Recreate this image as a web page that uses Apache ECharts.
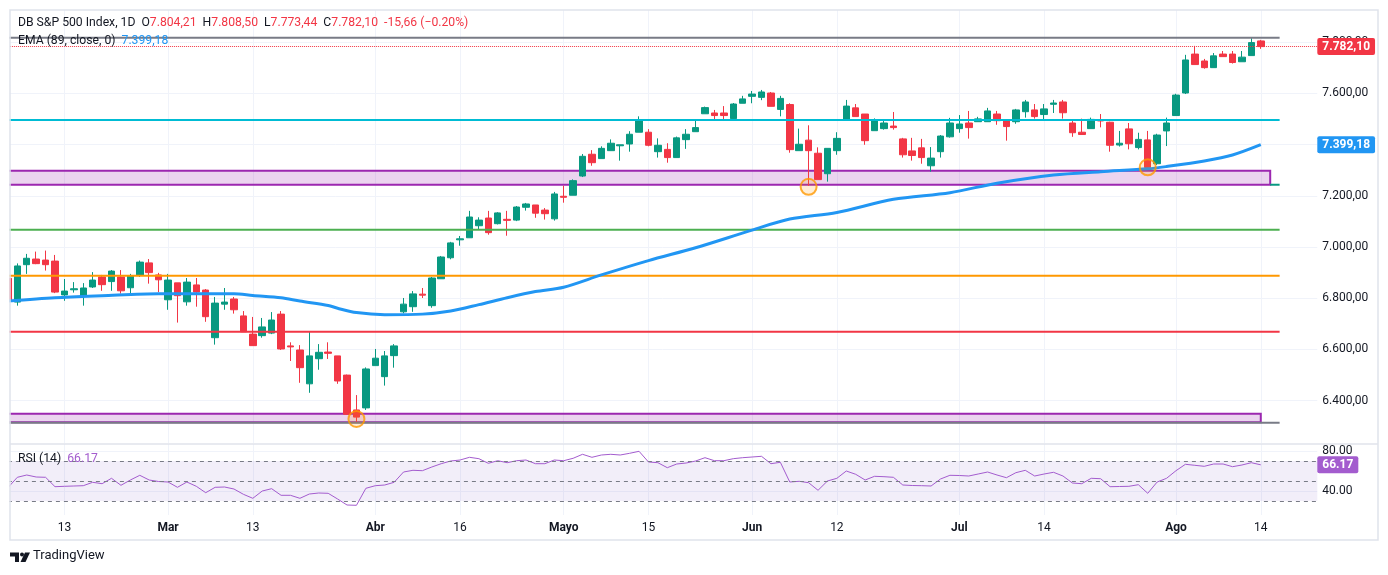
<!DOCTYPE html>
<html>
<head>
<meta charset="utf-8">
<script src="https://cdn.jsdelivr.net/npm/echarts@6/dist/echarts.min.js"></script>
<style>
html, body { margin: 0; padding: 0; background: #fff; }
#chart { width: 1388px; height: 575px; }
</style>
</head>
<body>
<div id="chart"></div>
<script>
// daily bars, oldest first (bar 0 is cut by the left edge)
var opens = [6878,6785,6931,6953,6949,6945,6813,6833,6809,6844,6883,6865,6883,6841,6891,6938,6891,6794,6860,6786,
  6852,6832,6646,6777,6797,6731,6660,6654,6664,6738,6614,6598,6466,6564,6590,6575,6500,6364,6372,6537,
  6494,6576,6747,6767,6816,6771,6876,6958,7028,7036,7083,7113,7091,7108,7105,7155,7164,7144,7110,7198,
  7202,7277,7362,7345,7376,7395,7402,7448,7448,7372,7381,7349,7419,7450,7520,7523,7523,7501,7561,7588,
  7584,7601,7537,7556,7376,7417,7366,7286,7376,7497,7543,7519,7454,7462,7472,7422,7375,7387,7317,7372,
  7430,7462,7484,7489,7489,7519,7492,7489,7528,7535,7517,7557,7566,7484,7448,7462,7495,7487,7398,7461,
  7388,7418,7325,7453,7513,7601,7753,7726,7700,7753,7753,7723,7747,7804.21];
var highs = [6885,6936,6973,6982,6986,6969,6875,6863,6859,6902,6891,6910,6910,6895,6947,6953,6899,6895,6860,6879,
  6879,6836,6805,6840,6805,6750,6727,6723,6746,6750,6628,6617,6669,6621,6628,6575,6502,6422,6530,6602,
  6594,6621,6801,6828,6840,6883,6965,7020,7043,7141,7116,7141,7136,7141,7160,7172,7164,7152,7215,7239,
  7264,7363,7378,7393,7420,7399,7452,7510,7460,7424,7405,7431,7460,7498,7548,7535,7550,7562,7590,7609,
  7613,7605,7590,7561,7462,7475,7389,7385,7448,7574,7558,7519,7502,7495,7527,7426,7426,7422,7390,7437,
  7504,7515,7531,7508,7543,7531,7492,7539,7574,7558,7558,7574,7574,7492,7501,7505,7519,7489,7453,7484,
  7446,7453,7442,7505,7598,7750,7785,7734,7757,7765,7765,7765,7815,7808.50];
var lows = [6780,6771,6895,6933,6908,6820,6790,6822,6771,6840,6829,6829,6818,6813,6883,6857,6824,6755,6705,6771,
  6767,6708,6619,6755,6740,6669,6615,6646,6660,6598,6555,6470,6431,6521,6563,6466,6345,6314,6364,6537,
  6459,6529,6741,6747,6801,6763,6876,6952,7005,7036,7069,7048,7088,7044,7101,7142,7114,7107,7103,7173,
  7202,7273,7317,7345,7376,7337,7372,7448,7393,7349,7329,7349,7383,7450,7520,7496,7496,7497,7561,7561,
  7573,7549,7510,7368,7376,7239,7263,7255,7360,7493,7509,7399,7454,7458,7458,7349,7337,7325,7294,7349,
  7427,7446,7423,7489,7489,7477,7415,7481,7505,7501,7497,7523,7501,7430,7439,7462,7467,7372,7392,7381,
  7381,7305,7320,7394,7513,7597,7712,7696,7700,7743,7716,7723,7747,7773.44];
var closes = [6789,6926,6956,6935,6931,6824,6828,6837,6840,6871,6853,6906,6829,6887,6941,6900,6872,6871,6810,6863,
  6824,6728,6781,6785,6755,6669,6615,6688,6715,6602,6610,6529,6575,6589,6585,6477,6347,6336,6524,6566,
  6575,6614,6777,6817,6812,6879,6961,7016,7032,7117,7105,7056,7133,7104,7156,7168,7132,7130,7207,7194,
  7259,7354,7329,7385,7405,7399,7440,7495,7397,7397,7349,7426,7440,7466,7544,7513,7513,7558,7578,7597,
  7605,7549,7580,7380,7401,7376,7263,7385,7424,7550,7509,7415,7492,7484,7466,7360,7357,7349,7347,7433,
  7484,7480,7466,7500,7531,7493,7470,7535,7566,7509,7539,7562,7524,7446,7439,7498,7492,7397,7405,7403,
  7420,7310,7437,7484,7593,7730,7712,7700,7746,7743,7720,7741,7797.76,7782.10];

// EMA(89): [bar, value]
var emaPoints = [[0,6789],[5,6802],[10,6810],[16,6818],[24,6818],[26,6811],[29,6802],[31,6789],[34,6772],
  [35,6761],[37,6744],[40,6736],[44,6738],[47,6750],[50,6775],[53,6802],[56,6826],[59,6843],[63,6891],
  [68,6947],[73,6997],[79,7066],[83,7109],[88,7135],[94,7186],[100,7212],[105,7249],[111,7281],[116,7294],
  [121,7305],[123,7314],[127,7336],[130,7359],[133,7399.18]];

// RSI(14), one value per bar
var rsiValues = [43.3,53.7,56,54,53.7,44.3,44.7,45,45.3,48.7,47.3,52.7,45.7,51,55.7,51,49.5,49,43.7,49,
  44.7,38.3,43.7,44,42,36.7,32.7,40,42.3,35.7,35.7,32.7,37,38,37.7,32,26,25.7,42.7,45.3,
  46,48.7,59,60.7,60.3,64,67.3,70,71,73.7,72.3,67.7,70.3,68.3,70.3,71,67.3,67.3,71,70.3,
  72.7,76.7,73.7,76,76.7,76,77.7,79.7,69,68.3,63.3,67,68,70,73.3,70.3,70.3,72.3,73.3,74,
  74.7,67.3,68.7,49,49.7,48.3,40.7,50,52.7,60,56.7,51,54.7,54.3,53.7,46,45.5,45.3,45,52,
  55.7,55.5,55,57,59,56,53.3,58.3,60.7,55,57,58.7,55,48,47.3,52.7,52.3,44.3,44.5,44.7,
  46.3,37.7,49,52.7,60.3,66.7,65.7,64.7,67,67,64.3,66,68.3,66.17];

var timeLabels = {6: '13', 17: 'Mar', 26: '13', 39: 'Abr', 48: '16', 59: 'Mayo', 68: '15',
  79: 'Jun', 88: '12', 101: 'Jul', 110: '14', 124: 'Ago', 133: '14'};
var monthNames = ['Mar', 'Abr', 'Mayo', 'Jun', 'Jul', 'Ago'];
var priceTicks = [6400, 6600, 6800, 7000, 7200, 7400, 7600, 7800];
var rsiTicks = [40, 80];

// drawn horizontal levels [value, first bar] and zones
var levelValues = [[7817, 0], [7496, 0], [7243, 134], [7067.5, 0], [6888, 0], [6669.4, 0], [6314, 0]];
var upperZone = [7297.8, 7243];
var lowerZone = [6349.3, 6315.8];
var touchPoints = [[37, 6328.7], [85, 7235], [121, 7311]];
var lastClose = 7782.10;
var lastEma = 7399.18;
var lastRsi = 66.17;

var barCount = 140;
var cats = [];
for (var i = 0; i < barCount; i++) cats.push(String(i));

var candleData = opens.map(function (o, i) {
    return [o, closes[i], lows[i], highs[i]];
});

function fmt(v) {
    var s = v.toFixed(2).split('.');
    return s[0].replace(/\B(?=(\d{3})+(?!\d))/g, '.') + ',' + s[1];
}

function tag(text, color) {
    return {
        show: true, position: 'end', distance: 0,
        formatter: function () { return text; },
        backgroundColor: color, color: '#ffffff', padding: [3, 5, 2, 5],
        borderRadius: 2, fontSize: 12, fontWeight: 'bold'
    };
}

var levelColors = ['#787b86', '#00bcd4', '#089981', '#4caf50', '#ff9800', '#f23645', '#787b86'];
var levelSeries = levelValues.map(function (lv, k) {
    return {
        type: 'line',
        xAxisIndex: 0, yAxisIndex: 0,
        data: [[lv[1], lv[0]], [135, lv[0]]],
        symbol: 'none',
        silent: true,
        z: 3,
        lineStyle: {color: levelColors[k], width: 2}
    };
});

var showTime = function (idx) { return timeLabels[idx] !== undefined; };
var hidden = 'rgba(0,0,0,0)';

var myChart = echarts.init(document.getElementById('chart'));

var option = {
    animation: false,
    backgroundColor: '#ffffff',
    textStyle: {fontFamily: 'Roboto'},
    grid: [
        {left: 7.9, right: 70.7, top: 10, height: 433},
        {left: 7.9, right: 70.7, top: 444, height: 71}
    ],
    xAxis: [
        {
            type: 'category', gridIndex: 0, data: cats, boundaryGap: false,
            axisLine: {show: false}, axisTick: {show: false}, axisLabel: {show: false},
            splitLine: {show: true, interval: showTime, lineStyle: {color: '#f0f3fa'}}
        },
        {
            type: 'category', gridIndex: 1, data: cats, boundaryGap: false,
            axisLine: {show: false}, axisTick: {show: false},
            axisLabel: {
                interval: showTime, margin: 7, color: '#131722', fontSize: 12,
                formatter: function (val, idx) {
                    var t = timeLabels[idx];
                    if (t === undefined) return '';
                    return monthNames.indexOf(t) >= 0 ? '{m|' + t + '}' : t;
                },
                rich: {m: {fontWeight: 'bold', fontSize: 12, color: '#131722'}}
            },
            splitLine: {show: true, interval: showTime, lineStyle: {color: '#f0f3fa'}}
        }
    ],
    yAxis: [
        {
            type: 'value', gridIndex: 0, position: 'right', min: 6235, max: 7925, scale: true,
            axisLine: {show: false},
            axisTick: {show: false, customValues: priceTicks},
            axisLabel: {customValues: priceTicks, formatter: fmt, color: '#131722', fontSize: 12, margin: 5},
            splitLine: {show: true, lineStyle: {color: '#f0f3fa'}}
        },
        {
            type: 'value', gridIndex: 1, position: 'right', min: 16, max: 87,
            axisLine: {show: false},
            axisTick: {show: false, customValues: rsiTicks},
            axisLabel: {customValues: rsiTicks, formatter: function (v) { return v.toFixed(2); },
                color: '#131722', fontSize: 12, margin: 5},
            splitLine: {show: true, lineStyle: {color: '#f0f3fa'}}
        }
    ],
    series: [
        {
            name: 'zones',
            type: 'line', xAxisIndex: 0, yAxisIndex: 0, data: [], z: 1,
            markArea: {
                silent: true,
                itemStyle: {color: 'rgba(156,39,176,0.2)', borderColor: '#9c27b0', borderWidth: 2},
                data: [
                    [{coord: [0, upperZone[0]]}, {coord: [134, upperZone[1]]}],
                    [{coord: [0, lowerZone[0]]}, {coord: [133, lowerZone[1]]}]
                ]
            }
        },
        {
            name: 'DB S&P 500 Index',
            type: 'candlestick', xAxisIndex: 0, yAxisIndex: 0,
            data: candleData,
            barWidth: 7,
            z: 2,
            itemStyle: {
                color: '#089981', color0: '#f23645',
                borderColor: '#089981', borderColor0: '#f23645', borderWidth: 1
            },
            markLine: {
                silent: true, symbol: ['none', 'none'],
                data: [{yAxis: lastClose}],
                lineStyle: {color: '#f23645', type: 'dotted', width: 1},
                label: tag(fmt(lastClose), '#f23645')
            }
        }
    ].concat(levelSeries).concat([
        {
            name: 'EMA',
            type: 'line', xAxisIndex: 0, yAxisIndex: 0,
            data: emaPoints, smooth: 0.3, symbol: 'none', z: 4,
            lineStyle: {color: '#2196f3', width: 3},
            markLine: {
                silent: true, symbol: ['none', 'none'],
                data: [{yAxis: lastEma}],
                lineStyle: {color: hidden, width: 0},
                label: tag(fmt(lastEma), '#2196f3')
            }
        },
        {
            name: 'touches',
            type: 'scatter', xAxisIndex: 0, yAxisIndex: 0,
            data: touchPoints, symbol: 'circle', symbolSize: 16, z: 5, silent: true,
            itemStyle: {color: 'rgba(255,152,0,0.2)', borderColor: '#ff9800', borderWidth: 2}
        },
        {
            name: 'RSI',
            type: 'line', xAxisIndex: 1, yAxisIndex: 1,
            data: rsiValues, symbol: 'none', z: 3,
            lineStyle: {color: '#a35cce', width: 1},
            markArea: {
                silent: true,
                itemStyle: {color: 'rgba(126,87,194,0.1)'},
                data: [[{yAxis: 70}, {yAxis: 30}]]
            },
            markLine: {
                silent: true, symbol: ['none', 'none'],
                lineStyle: {color: '#787b86', type: [4, 4], width: 1},
                label: {show: false},
                data: [
                    {yAxis: 70}, {yAxis: 50}, {yAxis: 30},
                    {yAxis: lastRsi, lineStyle: {color: hidden, width: 0}, label: tag(lastRsi.toFixed(2), '#a35cce')}
                ]
            }
        }
    ]),
    graphic: [
        {type: 'rect', shape: {x: 0, y: 0, width: 9.5, height: 575}, style: {fill: '#ffffff'}, z: 100, silent: true},
        {type: 'rect', shape: {x: 10, y: 10, width: 1368, height: 530},
            style: {fill: 'none', stroke: '#e0e3eb', lineWidth: 1.5}, z: 101, silent: true},
        {type: 'line', shape: {x1: 10, y1: 444, x2: 1378, y2: 444},
            style: {stroke: '#e0e3eb', lineWidth: 1.5}, z: 101, silent: true},
        {
            type: 'text', left: 18, top: 17, z: 102, silent: true,
            style: {
                text: 'DB S&P 500 Index, 1D  O{r|7.804,21}  H{r|7.808,50}  L{r|7.773,44}  C{r|7.782,10}  {r|-15,66 (\u22120.20%)}',
                fill: '#131722', font: '12.2px Roboto',
                rich: {r: {fill: '#f23645', font: '12.2px Roboto'}}
            }
        },
        {
            type: 'text', left: 18, top: 35, z: 102, silent: true,
            style: {
                text: 'EMA (89, close, 0)  {b|7.399,18}',
                fill: '#131722', font: '12.2px Roboto',
                rich: {b: {fill: '#2196f3', font: '12.2px Roboto'}}
            }
        },
        {
            type: 'text', left: 18, top: 453, z: 102, silent: true,
            style: {
                text: 'RSI (14)  {p|66.17}',
                fill: '#131722', font: '12.2px Roboto',
                rich: {p: {fill: '#a35cce', font: '12.2px Roboto'}}
            }
        },
        {type: 'polygon', shape: {points: [[10, 552.5], [19, 552.5], [19, 562], [15, 562], [15, 556.5], [10, 556.5]]},
            style: {fill: '#131722'}, z: 102, silent: true},
        {type: 'circle', shape: {cx: 22, cy: 554.6, r: 2}, style: {fill: '#131722'}, z: 102, silent: true},
        {type: 'polygon', shape: {points: [[25, 552.5], [30, 552.5], [25.5, 562], [20.5, 562]]},
            style: {fill: '#131722'}, z: 102, silent: true},
        {type: 'text', left: 33, top: 549, z: 102, silent: true,
            style: {text: 'TradingView', fill: '#131722', font: '13px Roboto'}}
    ]
};

myChart.setOption(option);
</script>
</body>
</html>
